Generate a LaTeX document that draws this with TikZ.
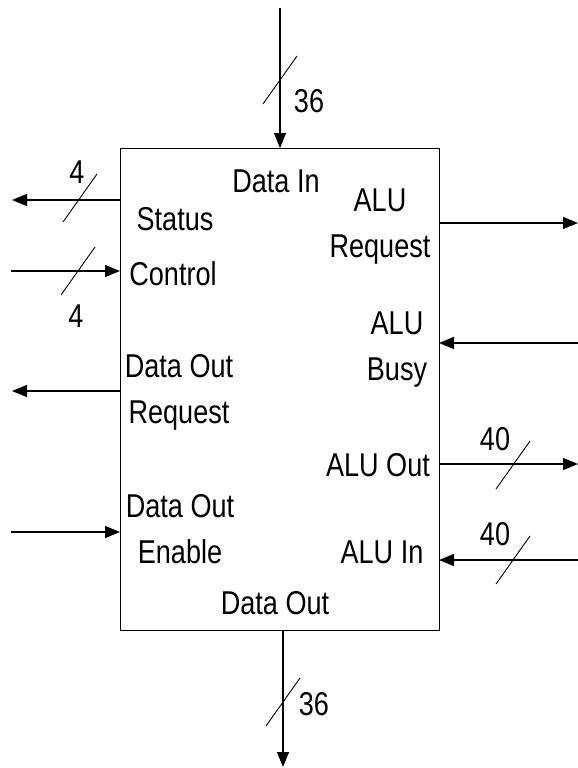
\documentclass[tikz,border=0pt]{standalone}
\usepackage{fontspec}
\setmainfont{Liberation Sans}[FakeStretch=0.82]
\usetikzlibrary{arrows.meta,calc}
\tikzset{
    block/.style = {
        draw, rectangle,
        line width=1pt,
        outer sep=0,
        inner sep=0,
        minimum width={319pt},
        minimum height={482pt}
    },
    wire/.style = {
        line width=1.3pt,
        -{Triangle[length=15pt,width=12pt]}
    },
    slash/.style = {line width=0.9pt},
    pin/.style = {
        align=center, anchor=base,
        inner sep=0,
        font=\fontsize{33}{46}\selectfont
    }
}
\newcommand{\busw}[1]{\draw[slash] ($(#1)+(-17,24)$) -- ($(#1)+(17,-24)$);}

\begin{document}
\begin{tikzpicture}[x=1pt,y=-1pt]
\useasboundingbox (0,0) rectangle (578,768);

% 1. the block
\node[block] (chip) at (279.5,389) {};

% 2. free ends of the wires
\coordinate (din)   at (280,8);
\coordinate (dout)  at (283,767);
\coordinate (stat)  at (12,200);
\coordinate (ctrl)  at (11,271);
\coordinate (dreq)  at (12,391);
\coordinate (den)   at (11,532);
\coordinate (areq)  at (578,223);
\coordinate (abusy) at (578,343);
\coordinate (aout)  at (578,464);
\coordinate (ain)   at (578,560);

% 3. wires
\draw[wire] (din) -- (din |- chip.north);
\draw[wire] (dout |- chip.south) -- (dout);
\draw[wire] (chip.west |- stat) -- (stat);
\draw[wire] (ctrl) -- (chip.west |- ctrl);
\draw[wire] (chip.west |- dreq) -- (dreq);
\draw[wire] (den) -- (chip.west |- den);
\draw[wire] (chip.east |- areq) -- (areq);
\draw[wire] (abusy) -- (chip.east |- abusy);
\draw[wire] (chip.east |- aout) -- (aout);
\draw[wire] (ain) -- (chip.east |- ain);

% 4. bus widths
\coordinate (bDin)  at (280,80);
\coordinate (bDout) at (283,702);
\coordinate (bStat) at (80,198);
\coordinate (bCtrl) at (78,271);
\coordinate (bAout) at (513,465);
\coordinate (bAin)  at (513,560);
\busw{bDin} \busw{bDout} \busw{bStat} \busw{bCtrl} \busw{bAout} \busw{bAin}
\node[pin] (wDin)  at (309,112) {36};
\node[pin] (wDout) at (314,715) {36};
\node[pin] (wStat) at (77,183)  {4};
\node[pin] (wCtrl) at (76,327)  {4};
\node[pin] (wAout) at (495,450) {40};
\node[pin] (wAin)  at (495,545) {40};

% 5. pin names (base = last line)
\node[pin] (tDin)  at (276,192) {Data In};
\node[pin] (tStat) at (175,230) {Status};
\node[pin] (tCtrl) at (173,285) {Control};
\node[pin] (tAreq) at (380,257) {ALU\\Request};
\node[pin] (tAbsy) at (397,380) {ALU\\Busy};
\node[pin] (tDreq) at (179,423) {Data Out\\Request};
\node[pin] (tAout) at (378,476) {ALU Out};
\node[pin] (tDen)  at (180,563) {Data Out\\Enable};
\node[pin] (tAin)  at (382,563) {ALU In};
\node[pin] (tDout) at (275,614) {Data Out};

\end{tikzpicture}
\end{document}
